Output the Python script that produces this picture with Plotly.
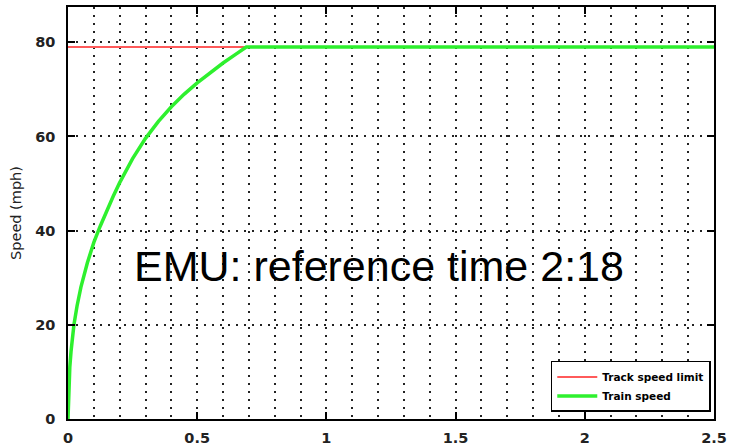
import plotly.graph_objects as go

# Data
limit_time = [0, 2.5]
limit_speed = [79, 79]

train_time = [0, 0.002, 0.007, 0.012, 0.023, 0.035, 0.05, 0.075, 0.1, 0.125, 0.15,
              0.175, 0.2, 0.25, 0.3, 0.35, 0.4, 0.45, 0.5, 0.55, 0.6, 0.65, 0.69, 2.5]
train_speed = [0, 6, 11, 14.5, 20, 24, 28, 33.2, 37.5, 41, 44.3,
               47.3, 50.2, 55.3, 59.6, 63.2, 66.3, 69, 71.4, 73.6, 75.6, 77.5, 79, 79]

x_ticks = [0, 0.5, 1, 1.5, 2, 2.5]
x_tick_text = ["0", "0.5", "1", "1.5", "2", "2.5"]
y_ticks = [0, 20, 40, 60, 80]

label_text = "EMU: reference time 2:18"

fig = go.Figure()
fig.add_trace(go.Scatter(x=limit_time, y=limit_speed, mode="lines",
                         name="Track speed limit",
                         line=dict(color="#ff5a5a", width=2)))
fig.add_trace(go.Scatter(x=train_time, y=train_speed, mode="lines",
                         name="Train speed",
                         line=dict(color="#2ef02e", width=3.5)))

tickfont = dict(family="DejaVu Sans", size=14.5, color="#222", weight="bold")
grid_dash = "1.5px,6.5px"

fig.update_layout(
    width=733, height=447,
    margin=dict(l=67.5, r=19, t=7, b=28),
    paper_bgcolor="white", plot_bgcolor="white",
    showlegend=True,
    legend=dict(x=0.995, y=0.017, xanchor="right", yanchor="bottom",
                bgcolor="white", bordercolor="black", borderwidth=1.5,
                font=dict(family="DejaVu Sans", size=10.5, color="black", weight="bold"),
                itemwidth=40, tracegroupgap=0),
    xaxis=dict(range=[0, 2.5], tickvals=x_ticks, ticktext=x_tick_text,
               ticks="inside", ticklen=7, tickwidth=1.5, tickcolor="black",
               showline=True, linecolor="black", linewidth=1.5, mirror="ticks",
               showgrid=True, gridcolor="#222", gridwidth=1.5, griddash=grid_dash,
               minor=dict(dtick=0.1, showgrid=True, gridcolor="#222", gridwidth=1.5,
                          griddash=grid_dash, ticks=""),
               tickfont=tickfont, zeroline=False, ticklabelstandoff=5,
               automargin=False),
    yaxis=dict(range=[0, 87.5], tickvals=y_ticks,
               ticks="inside", ticklen=7, tickwidth=1.5, tickcolor="black",
               showline=True, linecolor="black", linewidth=1.5, mirror="ticks",
               showgrid=True, gridcolor="#222", gridwidth=1.5, griddash=grid_dash,
               tickfont=tickfont, zeroline=False, ticklabelstandoff=8,
               automargin=False,
               title=dict(text="Speed (mph)", font=dict(family="DejaVu Sans", size=14.5, color="#222"),
                          standoff=10)),
    annotations=[dict(x=1.205, y=32.6, xref="x", yref="y", text=label_text,
                      showarrow=False, xanchor="center", yanchor="middle",
                      font=dict(family="Liberation Sans", size=43, color="black"))],
)

fig.write_html("out.html")
